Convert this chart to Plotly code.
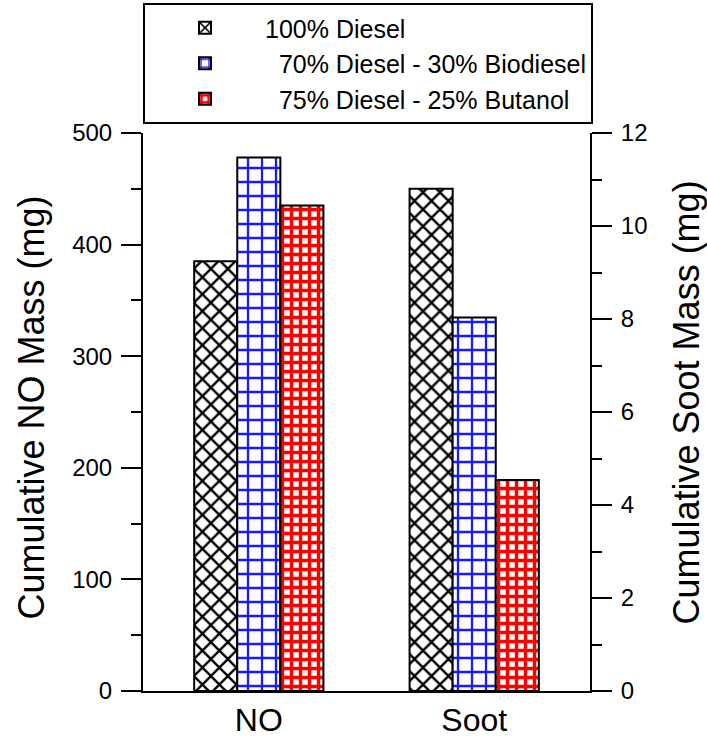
import plotly.graph_objects as go

categories = ["NO", "Soot"]
fuels = ["100% Diesel", "70% Diesel - 30% Biodiesel", "75% Diesel - 25% Butanol"]
legend_labels = ["100% Diesel", "\u00a0\u00a070% Diesel - 30% Biodiesel", "\u00a0\u00a075% Diesel - 25% Butanol"]
no_mass = [385, 478, 435]        # mg, left axis
soot_mass = [10.8, 8.03, 4.54]   # mg, right axis
left_title = "Cumulative NO Mass (mg)"
right_title = "Cumulative Soot Mass (mg)"

patterns = [
    dict(shape="x", fgcolor="black", bgcolor="white", size=12, solidity=0.35, fillmode="replace"),
    dict(shape="+", fgcolor="#1a1aff", bgcolor="white", size=14, solidity=0.3, fillmode="replace"),
    dict(shape="+", fgcolor="#ff0000", bgcolor="white", size=9, solidity=0.62, fillmode="replace"),
]

FONT = "Liberation Sans, Arial, Helvetica, sans-serif"
fig = go.Figure()
bw = 0.2
for i, fuel in enumerate(fuels):
    off = -1.5 * bw + i * bw
    fig.add_trace(go.Bar(
        x=[categories[0]], y=[no_mass[i]], name=legend_labels[i], legendgroup=fuel,
        width=bw, offset=off, yaxis="y", showlegend=True,
        marker=dict(color="white", pattern=patterns[i], line=dict(color="black", width=2)),
    ))
    fig.add_trace(go.Bar(
        x=[categories[1]], y=[soot_mass[i]], name=legend_labels[i], legendgroup=fuel,
        width=bw, offset=off, yaxis="y2", showlegend=False,
        marker=dict(color="white", pattern=patterns[i], line=dict(color="black", width=2)),
    ))

axis_common = dict(
    showgrid=False, zeroline=False, showline=True, linecolor="black", linewidth=2,
    ticks="outside", ticklen=20, tickwidth=2, tickcolor="black", automargin=False,
    ticklabelstandoff=4,
    tickfont=dict(family=FONT, size=24, color="black"),
)

fig.update_layout(
    width=707, height=743,
    margin=dict(l=143, r=117, t=133, b=52),
    plot_bgcolor="white", paper_bgcolor="white",
    font=dict(family=FONT, color="black"),
    barmode="overlay",
    xaxis=dict(
        type="category", categoryorder="array", categoryarray=categories,
        range=[-0.5376, 1.5376], showgrid=False, zeroline=False, automargin=False,
        showline=True, linecolor="black", linewidth=2, ticks="",
        tickfont=dict(family=FONT, size=32, color="black"),
    ),
    yaxis=dict(
        range=[0, 500], dtick=100, tick0=0,
        minor=dict(dtick=50, ticks="outside", ticklen=10, tickwidth=2, tickcolor="black", showgrid=False),
        **axis_common,
    ),
    yaxis2=dict(
        range=[0, 12], dtick=2, tick0=0, overlaying="y", side="right",
        minor=dict(dtick=1, ticks="outside", ticklen=10, tickwidth=2, tickcolor="black", showgrid=False),
        **axis_common,
    ),
    legend=dict(
        xref="paper", yref="container",
        x=0, xanchor="left", y=1 - 3 / 743, yanchor="top",
        bordercolor="black", borderwidth=2, bgcolor="white",
        font=dict(family=FONT, size=25, color="black"),
        itemwidth=110, tracegroupgap=0,
    ),
    showlegend=True,
    annotations=[
        dict(text=left_title, xref="paper", yref="paper", x=-0.2494, y=0.507,
             textangle=-90, showarrow=False, xanchor="center", yanchor="middle",
             font=dict(family=FONT, size=36, color="black")),
        dict(text=right_title, xref="paper", yref="paper", x=1.217, y=0.517,
             textangle=-90, showarrow=False, xanchor="center", yanchor="middle",
             font=dict(family=FONT, size=36, color="black")),
    ],
)

fig.write_html("out.html")
